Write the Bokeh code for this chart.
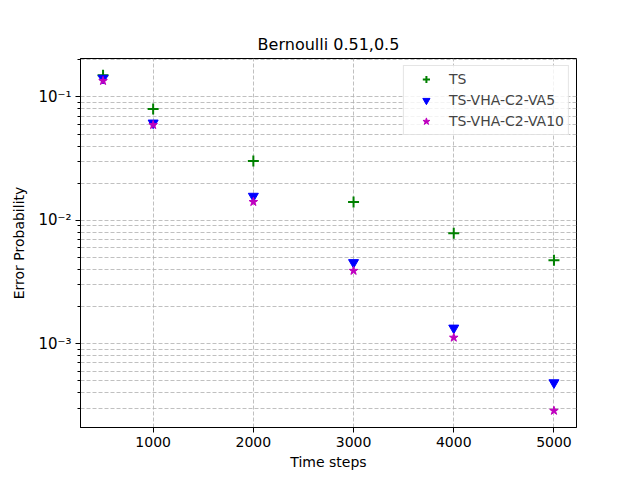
import numpy as np
from bokeh.plotting import figure
from bokeh.models import Range1d, FixedTicker, CustomJSTickFormatter, Legend, LegendItem
from bokeh.embed import file_html
from bokeh.resources import INLINE

steps = [500, 1000, 2000, 3000, 4000, 5000]
ts = [0.150, 0.080, 0.0303, 0.0141, 0.00785, 0.00474]
va5 = [0.142, 0.0616, 0.0157, 0.00455, 0.00134, 0.000483]
va10 = [0.135, 0.0593, 0.0141, 0.0039, 0.00112, 0.000286]

title = "Bernoulli 0.51,0.5"
xlabel = "Time steps"
ylabel = "Error Probability"
names = ["TS", "TS-VHA-C2-VA5", "TS-VHA-C2-VA10"]
x_ticks = [1000, 2000, 3000, 4000, 5000]
y_ticks = [1e-3, 1e-2, 1e-1]

FONT = "DejaVu Sans"

# matplotlib-like 5% margins
xmin, xmax = min(steps), max(steps)
xpad = 0.05 * (xmax - xmin)
allv = np.array(ts + va5 + va10)
lmin, lmax = np.log10(allv.min()), np.log10(allv.max())
lpad = 0.05 * (lmax - lmin)

p = figure(frame_width=496, frame_height=369,
           min_border_left=80, min_border_right=64, min_border_top=58, min_border_bottom=53,
           y_axis_type="log",
           x_range=Range1d(xmin - xpad, xmax + xpad),
           y_range=Range1d(10 ** (lmin - lpad), 10 ** (lmax + lpad)),
           output_backend="svg", toolbar_location=None,
           background_fill_color="white", border_fill_color="white")

p.title.text = title
p.title.align = "center"
p.title.text_font = FONT
p.title.text_font_size = "16px"
p.title.text_font_style = "normal"
p.title.text_color = "black"
p.title.standoff = 9

minor = [m * 10.0 ** e for e in range(-5, 1) for m in range(2, 10)]
p.yaxis.ticker = FixedTicker(ticks=y_ticks, minor_ticks=minor)
p.xaxis.ticker = FixedTicker(ticks=x_ticks, minor_ticks=[])
p.yaxis.formatter = CustomJSTickFormatter(code="""
const e = Math.round(Math.log10(tick));
const sup = {'-':'\u207b','0':'\u2070','1':'\u00b9','2':'\u00b2','3':'\u00b3','4':'\u2074','5':'\u2075','6':'\u2076','7':'\u2077','8':'\u2078','9':'\u2079'};
return '10' + String(e).split('').map(c => sup[c]).join('');
""")

for ax in (p.xaxis[0], p.yaxis[0]):
    ax.axis_line_color = "black"
    ax.major_tick_line_color = "black"
    ax.minor_tick_line_color = "black"
    ax.major_tick_in = 0
    ax.major_tick_out = 5
    ax.minor_tick_in = 0
    ax.minor_tick_out = 3
    ax.major_label_text_font = FONT
    ax.major_label_text_font_size = "14px"
    ax.major_label_text_color = "black"
    ax.axis_label_text_font = FONT
    ax.axis_label_text_font_size = "14px"
    ax.axis_label_text_font_style = "normal"
    ax.axis_label_text_color = "black"
    ax.major_label_standoff = 4
p.xaxis.axis_label = xlabel
p.yaxis.axis_label = ylabel
p.xaxis.axis_label_standoff = 4
p.yaxis.axis_label_standoff = 8
p.yaxis.major_label_text_font_size = "15px"

p.outline_line_color = "black"
p.outline_line_width = 1

p.xgrid.grid_line_color = "#b0b0b0"
p.xgrid.grid_line_dash = "4 2"
p.xgrid.grid_line_width = 0.8
p.ygrid.grid_line_color = "#b0b0b0"
p.ygrid.grid_line_dash = "4 2"
p.ygrid.grid_line_width = 0.8
p.ygrid.minor_grid_line_color = "#b0b0b0"
p.ygrid.minor_grid_line_dash = "4 2"
p.ygrid.minor_grid_line_width = 0.8

r1 = p.scatter(steps, ts, marker="cross", size=11, line_color="#008000", line_width=2)
r2 = p.scatter(steps, va5, marker="inverted_triangle", size=10, fill_color="#0000ff", line_color="#0000ff")
r3 = p.scatter(steps, va10, marker="star", size=9, fill_color="#bf00bf", line_color="#bf00bf")

legend = Legend(items=[LegendItem(label=names[0], renderers=[r1]),
                       LegendItem(label=names[1], renderers=[r2]),
                       LegendItem(label=names[2], renderers=[r3])],
                location="top_right")
legend.margin = 7
legend.padding = 4
legend.spacing = 3
legend.glyph_height = 18
legend.glyph_width = 36
legend.label_height = 18
legend.label_standoff = 5
legend.label_text_font = FONT
legend.label_text_font_size = "14px"
legend.border_line_color = "#cccccc"
legend.border_line_width = 1
legend.background_fill_alpha = 0.8
p.add_layout(legend)

open("out.html", "w").write(file_html(p, INLINE))
